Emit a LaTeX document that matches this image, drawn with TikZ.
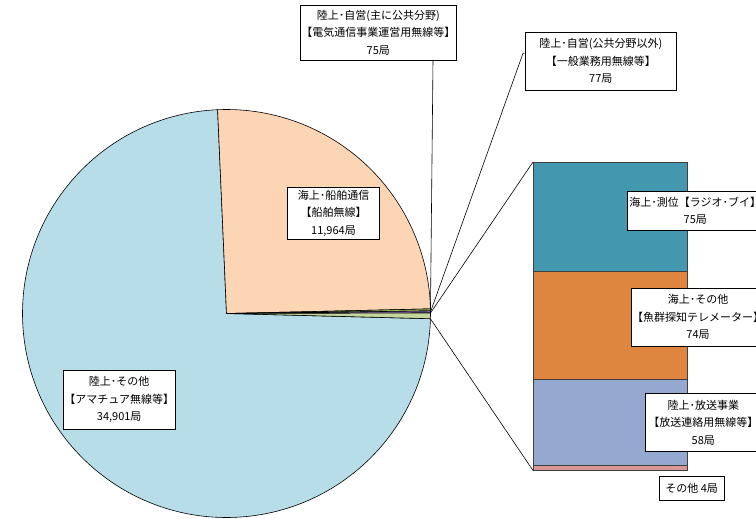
\documentclass[tikz,border=0pt]{standalone}
\usepackage{fontspec}
\newfontfamily\jp{Noto Sans CJK JP}
\definecolor{pieBlue}{HTML}{B7DEE8}
\definecolor{pieOrange}{HTML}{FCD5B5}
\definecolor{pieGreen}{HTML}{9BBB59}
\definecolor{piePurple}{HTML}{8064A2}
\definecolor{pieLight}{HTML}{C3D69B}
\definecolor{barTeal}{HTML}{4398B0}
\definecolor{barOrange}{HTML}{DE853F}
\definecolor{barBlue}{HTML}{95A9D0}
\definecolor{barPink}{HTML}{D99795}
\definecolor{barEdge}{HTML}{3F3F3F}
\begin{document}
\begin{tikzpicture}[x=1pt,y=-1pt,
  slice/.style={draw=black, line width=0.6pt, line join=round},
  seg/.style={draw=barEdge, line width=0.8pt, inner sep=0pt, outer sep=0pt, minimum width=154pt, anchor=north west},
  lbl/.style={draw=black, line width=0.6pt, fill=white, align=center, inner sep=1pt,
    font=\jp\fontsize{11}{17.5}\selectfont},
  leader/.style={draw=black, line width=0.6pt}]
\useasboundingbox (0,0) rectangle (756,519);
\fill[white] (0,0) rectangle (756,519);
% pie
\begin{scope}[shift={(226.5,313.5)}, y=1pt]
  \filldraw[slice, fill=pieBlue] (0,0) -- (92.5:204) arc[start angle=92.5, end angle=358.53, radius=204] -- cycle;
  \filldraw[slice, fill=pieOrange] (0,0) -- (1.3:204) arc[start angle=1.3, end angle=92.5, radius=204] -- cycle;
  \filldraw[slice, fill=pieGreen] (0,0) -- (0.73:204) arc[start angle=0.73, end angle=1.3, radius=204] -- cycle;
  \filldraw[slice, fill=piePurple] (0,0) -- (0.14:204) arc[start angle=0.14, end angle=0.73, radius=204] -- cycle;
  \filldraw[slice, fill=pieLight] (0,0) -- (-1.47:204) arc[start angle=-1.47, end angle=0.14, radius=204] -- cycle;
  \coordinate (p75) at (1.0:204);
  \coordinate (p77) at (0.43:204);
  \coordinate (otop) at (0.14:204);
  \coordinate (obot) at (-1.47:204);
\end{scope}
% bar
\node[seg, fill=barTeal, minimum height=109.7pt] (teal) at (533,162) {};
\node[seg, fill=barOrange, minimum height=107.6pt] (orng) at (533,271.7) {};
\node[seg, fill=barBlue, minimum height=85.7pt] (blue) at (533,379.3) {};
\node[seg, fill=barPink, minimum height=5.5pt] (pink) at (533,465) {};
\draw[leader] (otop) -- (teal.north west);
\draw[leader] (obot) -- (pink.south west);
% labels in pie
\node[lbl, minimum width=91.6pt, minimum height=52pt] (lorange) at (333.5,213.3) {海上･船舶通信\\【船舶無線】\\11,964局};
\node[lbl, minimum width=111.7pt, minimum height=59.3pt] (lblue) at (119.2,399.7) {陸上･その他\\【アマチュア無線等】\\34,901局};
% top labels
\node[lbl, minimum width=156.7pt, minimum height=55pt] (box1) at (378.3,32.5) {陸上･自営(主に公共分野)\\【電気通信事業運営用無線等】\\75局};
\node[lbl, minimum width=151.7pt, minimum height=57.3pt] (box2) at (600.8,61.3) {陸上･自営(公共分野以外)\\【一般業務用無線等】\\77局};
\coordinate (l1) at (433,60);
\coordinate (l2) at (523,53.3);
\draw[leader] (l1) -- (p75);
\draw[leader] (box2.west |- l2) -- (l2) -- (p77);
% bar labels
\node[lbl, anchor=west, minimum width=135.4pt, minimum height=39pt] (lteal) at (627.3,210.5) {海上･測位【ラジオ･ブイ】\\75局};
\node[lbl, anchor=west, minimum width=132pt, minimum height=58.7pt] (lorng) at (630.7,317.3) {海上･その他\\【魚群探知テレメーター】\\74局};
\node[lbl, anchor=west, minimum width=116pt, minimum height=58.4pt] (lbarblue) at (645,422.5) {陸上･放送事業\\【放送連絡用無線等】\\58局};
\node[lbl, minimum width=64.7pt, minimum height=24pt] (lpink) at (691.7,488) {その他 4局};
\end{tikzpicture}
\end{document}
